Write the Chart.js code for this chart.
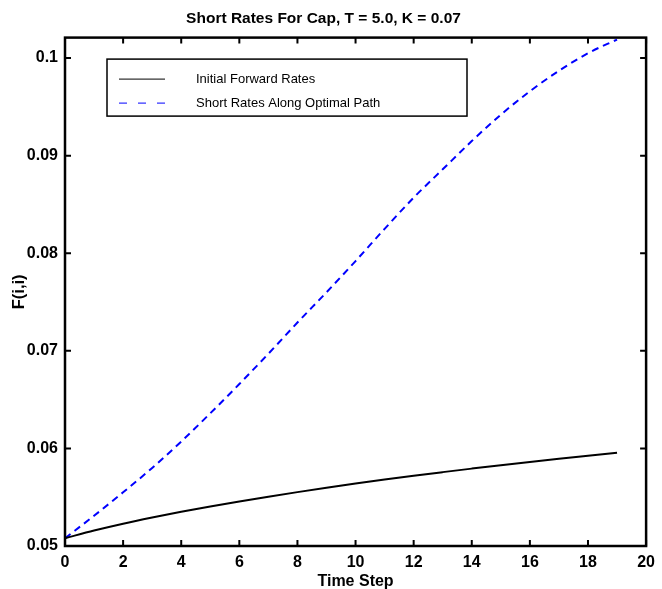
<!DOCTYPE html>
<html lang="en">
<head>
    <meta charset="UTF-8">
    <title>Short Rates For Cap</title>
    <script src="https://cdn.jsdelivr.net/npm/chart.js@4.4.0/dist/chart.umd.min.js"></script>
    <style>
        body {
            margin: 0;
            background: #ffffff;
            overflow: hidden;
        }
        .wrap {
            width: 662px;
            height: 589px;
        }
    </style>
</head>
<body>
    <div class="wrap">
        <canvas id="chart" width="662" height="589"></canvas>
    </div>

    <script>
        const timeSteps = [0, 1, 2, 3, 4, 5, 6, 7, 8, 9, 10, 11, 12, 13, 14, 15, 16, 17, 18, 19];
        const forwardRates = [0.05080, 0.05158, 0.05228, 0.05291, 0.05350, 0.05405, 0.05456, 0.05505, 0.05552, 0.05597,
                              0.05640, 0.05681, 0.05720, 0.05757, 0.05793, 0.05828, 0.05861, 0.05893, 0.05924, 0.05955];
        const shortRates = [0.0508, 0.0531, 0.0555, 0.0580, 0.0607, 0.0636, 0.0666, 0.0697, 0.0729, 0.0760,
                            0.0792, 0.0825, 0.0857, 0.0886, 0.0915, 0.0942, 0.0966, 0.0987, 0.1005, 0.1019];
        const xTicks = [0, 2, 4, 6, 8, 10, 12, 14, 16, 18, 20];
        const yTicks = [0.05, 0.06, 0.07, 0.08, 0.09, 0.1];
        const seriesNames = ['Initial Forward Rates', 'Short Rates Along Optimal Path'];

        const FONT = "'Liberation Sans', Arial, sans-serif";
        Chart.defaults.font.family = FONT;
        Chart.defaults.color = '#000';

        // matlab style box with ticks pointing inward
        const boxPlugin = {
            id: 'box',
            afterDatasetsDraw(chart) {
                const { ctx, chartArea: a, scales } = chart;
                ctx.save();
                ctx.strokeStyle = '#000';
                ctx.lineWidth = 2;
                ctx.beginPath();
                xTicks.forEach(v => {
                    const x = scales.x.getPixelForValue(v);
                    ctx.moveTo(x, a.bottom); ctx.lineTo(x, a.bottom - 6);
                    ctx.moveTo(x, a.top); ctx.lineTo(x, a.top + 6);
                });
                yTicks.forEach(v => {
                    const y = scales.y.getPixelForValue(v);
                    ctx.moveTo(a.left, y); ctx.lineTo(a.left + 6, y);
                    ctx.moveTo(a.right, y); ctx.lineTo(a.right - 6, y);
                });
                ctx.stroke();
                ctx.lineWidth = 2.5;
                ctx.strokeRect(a.left, a.top, a.right - a.left, a.bottom - a.top);

                // legend box
                const lx = a.left + 42, ly = a.top + 21.5, lw = 360, lh = 57;
                ctx.fillStyle = '#fff';
                ctx.fillRect(lx, ly, lw, lh);
                ctx.lineWidth = 1.5;
                ctx.strokeRect(lx, ly, lw, lh);
                ctx.font = "13px " + FONT;
                ctx.textBaseline = 'middle';
                chart.data.datasets.forEach((ds, i) => {
                    const y = ly + 20 + i * 24;
                    ctx.beginPath();
                    ctx.strokeStyle = ds.borderColor;
                    ctx.lineWidth = 1;
                    ctx.setLineDash(ds.borderDash.length ? [8, 11] : []);
                    ctx.moveTo(lx + 12, y);
                    ctx.lineTo(lx + 58, y);
                    ctx.stroke();
                    ctx.setLineDash([]);
                    ctx.fillStyle = '#000';
                    ctx.fillText(ds.label, lx + 89, y);
                });
                ctx.restore();
            }
        };

        new Chart(document.getElementById('chart'), {
            type: 'line',
            data: {
                datasets: [{
                    label: seriesNames[0],
                    data: timeSteps.map((t, i) => ({ x: t, y: forwardRates[i] })),
                    borderColor: '#000000',
                    borderWidth: 2,
                    borderDash: [],
                    pointRadius: 0,
                    cubicInterpolationMode: 'monotone',
                    fill: false
                }, {
                    label: seriesNames[1],
                    data: timeSteps.map((t, i) => ({ x: t, y: shortRates[i] })),
                    borderColor: '#0000ff',
                    borderWidth: 2,
                    borderDash: [7, 5],
                    pointRadius: 0,
                    cubicInterpolationMode: 'monotone',
                    fill: false
                }]
            },
            options: {
                responsive: false,
                animation: false,
                layout: { padding: { left: 0, right: 15, top: 0, bottom: 0 } },
                plugins: {
                    legend: { display: false },
                    tooltip: { enabled: false },
                    title: {
                        display: true,
                        text: 'Short Rates For Cap, T = 5.0, K = 0.07',
                        color: '#000',
                        font: { size: 15.5, weight: 'bold' },
                        padding: { top: 9, bottom: 10 }
                    }
                },
                scales: {
                    x: {
                        type: 'linear',
                        min: 0,
                        max: 20,
                        afterBuildTicks: s => { s.ticks = xTicks.map(v => ({ value: v })); },
                        afterFit: s => { s.height = 43; },
                        grid: { display: false, drawTicks: false },
                        border: { display: false },
                        ticks: { font: { size: 16, weight: 'bold' }, padding: 7, maxRotation: 0 },
                        title: {
                            display: true,
                            text: 'Time Step',
                            font: { size: 16, weight: 'bold' },
                            padding: { top: 0, bottom: -2 }
                        }
                    },
                    y: {
                        min: 0.05,
                        max: 0.1021,
                        afterBuildTicks: s => { s.ticks = yTicks.map(v => ({ value: v })); },
                        afterFit: s => { s.width = 65; },
                        grid: { display: false, drawTicks: false },
                        border: { display: false },
                        ticks: {
                            font: { size: 16, weight: 'bold' },
                            padding: 7,
                            callback: v => String(Math.round(v * 100) / 100)
                        },
                        title: {
                            display: true,
                            text: 'F(i,i)',
                            font: { size: 16.5, weight: 'bold' },
                            padding: { top: 10, bottom: 0 }
                        }
                    }
                }
            },
            plugins: [boxPlugin]
        });
    </script>
</body>
</html>
